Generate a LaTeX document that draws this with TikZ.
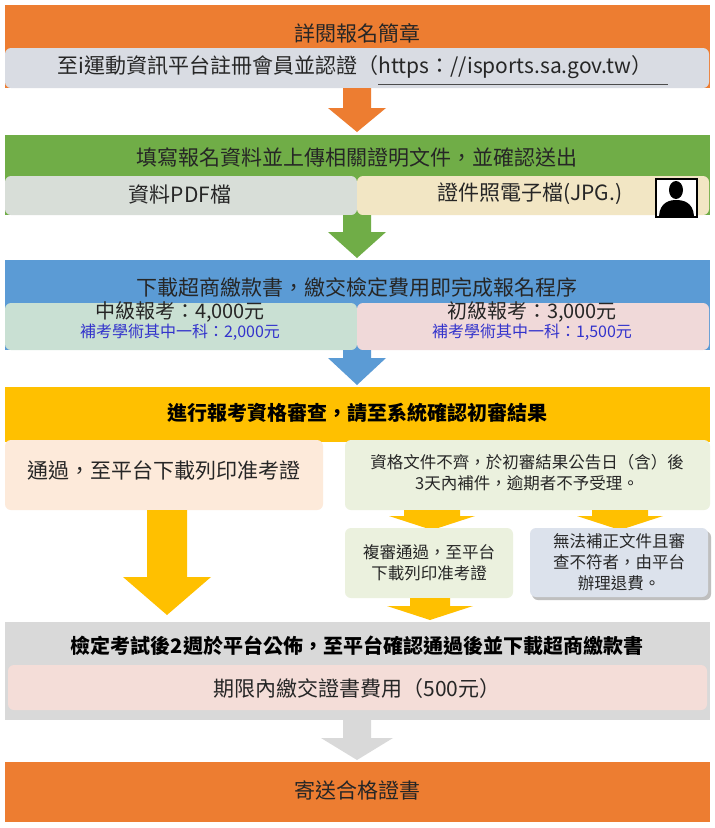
\documentclass[tikz,border=0pt]{standalone}
\usepackage{fontspec}
\setmainfont{Noto Sans CJK TC}
\definecolor{cor}{HTML}{ED7D31}
\definecolor{cgr}{HTML}{70AD47}
\definecolor{cbl}{HTML}{5B9BD5}
\definecolor{cye}{HTML}{FFC000}
\definecolor{cgy}{HTML}{D9D9D9}
\definecolor{txtblue}{HTML}{3333CC}
\definecolor{s1}{HTML}{D9DCE3}
\definecolor{s2a}{HTML}{D8DED8}
\definecolor{s2b}{HTML}{F2E6C4}
\definecolor{s3a}{HTML}{C9E0D3}
\definecolor{s3b}{HTML}{F0D9D9}
\definecolor{s4a}{HTML}{FDEADA}
\definecolor{s4b}{HTML}{EBF1DE}
\definecolor{s4c}{HTML}{DCE2EC}
\definecolor{s5}{HTML}{F4DDD8}
\begin{document}
\begin{tikzpicture}[x=1pt,y=-1pt,
  sub/.style={rounded corners=6pt,draw=none},
  ttl/.style={font=\fontsize{21}{24}\selectfont,text=black!85},
  big/.style={font=\fontsize{20}{24}\selectfont\bfseries,text=black},
  med/.style={font=\fontsize{20}{22}\selectfont,text=black!85},
  sml/.style={font=\fontsize{16.5}{21}\selectfont,text=black!85,align=center},
  blu/.style={font=\fontsize{16}{18}\selectfont,text=txtblue}]
\useasboundingbox (0,0) rectangle (715,828);
\fill[white] (0,0) rectangle (715,828);
\newcommand{\darrow}[7]{%
  \fill[#1] (#2-#6,#3) -- (#2+#6,#3) -- (#2+#6,#4) -- (#2+#7,#4) -- (#2,#5) -- (#2-#7,#4) -- (#2-#6,#4) -- cycle;}
% band 1
\fill[cor] (5,5) rectangle (710,88);
\node[ttl] (t1) at (357,33) {詳閱報名簡章};
\fill[s1,sub] (5,48) rectangle (709,88);
\node[ttl] (t1b) at (355,67) {至i運動資訊平台註冊會員並認證（https：//isports.sa.gov.tw）};
\draw[black!70,line width=0.6pt] (378,84) -- (668,84);
\darrow{cor}{357}{88}{108}{132}{14}{29}
% band 2
\fill[cgr] (5,135) rectangle (710,215);
\node[ttl] (t2) at (357,158) {填寫報名資料並上傳相關證明文件，並確認送出};
\fill[s2a,sub] (5,176) rectangle (357,215);
\fill[s2b,sub] (357,176) rectangle (709,215);
\node[ttl] (t2a) at (180,194) {資料PDF檔};
\node[ttl] (t2b) at (530,194) {證件照電子檔(JPG.)};
\fill[black] (655,178) rectangle (698,218);
\fill[white] (657,180) rectangle (696,216);
\fill[black] (676,190) ellipse (7 and 9);
\fill[black] (659,216) .. controls (660,202) and (670,200) .. (676,200) .. controls (683,200) and (693,202) .. (694,216) -- cycle;
\darrow{cgr}{357}{215}{232}{258}{14}{29}
% band 3
\fill[cbl] (5,260) rectangle (710,350);
\node[ttl] (t3) at (357,287) {下載超商繳款書，繳交檢定費用即完成報名程序};
\fill[s3a,sub] (5,303) rectangle (357,350);
\fill[s3b,sub] (357,303) rectangle (709,350);
\node[med] (t3a) at (180,312) {中級報考：4,000元};
\node[blu] (t3b) at (180,332) {補考學術其中一科：2,000元};
\node[med] (t3c) at (532,312) {初級報考：3,000元};
\node[blu] (t3d) at (532,332) {補考學術其中一科：1,500元};
\darrow{cbl}{357}{350}{358}{385}{14}{29}
% band 4
\fill[cye] (5,387) rectangle (710,442);
\node[big] (t4) at (357,413) {進行報考資格審查，請至系統確認初審結果};
\fill[s4a,sub] (5,440) rectangle (323,510);
\node[ttl] (pass) at (164,470) {通過，至平台下載列印准考證};
\fill[s4b,sub] (345,440) rectangle (710,510);
\node[sml] (fail) at (527,473) {資格文件不齊，於初審結果公告日（含）後\\3天內補件，逾期者不予受理。};
\darrow{cye}{167}{510}{577}{615}{20}{44}
\darrow{cye}{432}{510}{516}{530}{28}{43}
\darrow{cye}{620}{510}{516}{530}{28}{43}
\fill[s4b,sub] (345,528) rectangle (513,598);
\node[sml] (re) at (429,563) {複審通過，至平台\\下載列印准考證};
\fill[black!25,sub] (532,531) rectangle (711,600);
\fill[s4c,sub] (530,528) rectangle (708,597);
\node[sml] (ref) at (619,562) {無法補正文件且審\\查不符者，由平台\\辦理退費。};
\darrow{cye}{430}{598}{606}{620}{20}{43}
% band 5
\fill[cgy] (5,622) rectangle (710,720);
\node[big] (t5) at (357,646) {檢定考試後2週於平台公佈，至平台確認通過後並下載超商繳款書};
\fill[s5,sub] (8,665) rectangle (707,710);
\node[ttl] (t5b) at (357,689) {期限內繳交證書費用（500元）};
\darrow{cgy}{357}{720}{738}{760}{14}{36}
% band 6
\fill[cor] (5,762) rectangle (710,822);
\node[ttl] (t6) at (357,790) {寄送合格證書};
\end{tikzpicture}
\end{document}
